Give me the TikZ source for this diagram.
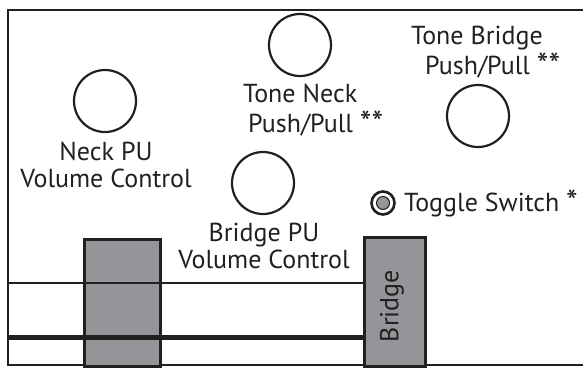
\documentclass[tikz,border=0pt]{standalone}
\usepackage{fontspec}
\setmainfont{PT Sans}
\definecolor{ink}{HTML}{231F20}
\definecolor{plate}{HTML}{939598}
\newcommand\bigstar[1]{{\fontsize{33}{33}\selectfont\raisebox{-2.5pt}{#1}}}
\begin{document}
\begin{tikzpicture}[x=1pt,y=-1pt,
  knob/.style={circle,draw=ink,line width=2.2pt,minimum size=62pt,inner sep=0pt},
  lbl/.style={font=\fontsize{26}{27}\selectfont,text=ink,inner sep=0pt,align=center},
  lblw/.style={font=\fontsize{26}{27}\selectfont,text=ink,inner sep=0pt,anchor=base west},
  platebox/.style={draw=ink,fill=plate,line width=2.5pt,inner sep=0pt,anchor=north west}]
\useasboundingbox (0,0) rectangle (583,367);
% frame
\draw[ink,line width=2.8pt] (583,10) -- (8,10) -- (8,365) -- (583,365);
% plates
\node[platebox,minimum width=76pt,minimum height=127pt] (neckpl) at (83,238) {};
% strings
\coordinate (s1) at (8,283);
\coordinate (s2) at (8,337);
\node[platebox,minimum width=61pt,minimum height=129pt] (bridge) at (363,236) {};
\draw[ink,line width=2.2pt] (s1) -- (bridge.west |- s1);
\draw[ink,line width=5pt] (s2) -- (bridge.west |- s2);
\node[lbl,rotate=90] (bridgetxt) at (392,306) {Bridge};
% knobs
\node[knob] (neckvol) at (105,101) {};
\node[knob] (toneneck) at (300,45) {};
\node[knob] (tonebridge) at (478,116) {};
\node[knob] (bridgevol) at (263,183) {};
% toggle
\node[circle,draw=ink,line width=2.6pt,minimum size=23pt,inner sep=0pt] (toggle) at (383,203) {};
\node[circle,draw=ink,fill=plate,line width=1pt,minimum size=13pt,inner sep=0pt] (togglein) at (383,203) {};
% labels
\node[lbl,anchor=base] (neckvolt) at (106,187) {Neck PU\\Volume Control};
\node[lbl,anchor=base] (bridgevolt) at (264,268) {Bridge PU\\Volume Control};
\node[lblw] (tnt1) at (243,102) {Tone Neck};
\node[lblw] (tnt2) at (248,132) {Push/Pull \bigstar{**}};
\node[lblw] (tbt1) at (411,44) {Tone Bridge};
\node[lblw] (tbt2) at (425,74) {Push/Pull \bigstar{**}};
\node[lblw] (togt) at (404,211) {Toggle Switch \bigstar{*}};
\end{tikzpicture}
\end{document}
